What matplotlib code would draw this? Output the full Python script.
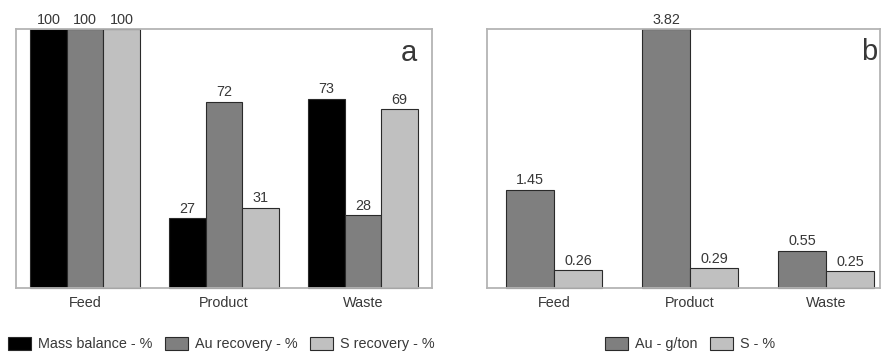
import matplotlib
matplotlib.use("Agg")
import matplotlib.pyplot as plt
import numpy as np

plt.rcParams['font.family'] = ['Liberation Sans', 'DejaVu Sans']

categories = ["Feed", "Product", "Waste"]

# Panel a: mass balance and recoveries (%)
mass_balance = [100, 27, 73]
au_recovery = [100, 72, 28]
s_recovery = [100, 31, 69]

# Panel b: grades
au_grade = [1.45, 3.82, 0.55]
s_grade = [0.26, 0.29, 0.25]

BLACK = "#000000"
GREY = "#7f7f7f"
LIGHT = "#c0c0c0"
EDGE = "#2a2a2a"
FRAME = "#b4b4b4"
TXT = "#383838"
FS = 10.4

W, H = 881, 358
fig = plt.figure(figsize=(W / 100, H / 100), dpi=100)
ax_a = fig.add_axes([16 / W, 70 / H, 416 / W, 259 / H])
ax_b = fig.add_axes([487 / W, 70 / H, 393 / W, 259 / H])


def style(ax):
    for s in ax.spines.values():
        s.set_color(FRAME)
        s.set_linewidth(1.3)
    ax.set_yticks([])
    ax.tick_params(axis='x', length=0, labelsize=FS, labelcolor=TXT, pad=6)


def legend(ax, x_px):
    ax.legend(loc='center left', bbox_to_anchor=(x_px / W, 1 - 344 / H),
              bbox_transform=fig.transFigure, ncol=3, frameon=False,
              fontsize=FS, handlelength=1.6, handleheight=1.05,
              handletextpad=0.45, columnspacing=0.9, labelcolor=TXT,
              borderaxespad=0, borderpad=0)


x = np.arange(len(categories))

# Panel a
w = 0.262
series_a = [(mass_balance, BLACK, "Mass balance - %"),
            (au_recovery, GREY, "Au recovery - %"),
            (s_recovery, LIGHT, "S recovery - %")]
for i, (vals, col, lab) in enumerate(series_a):
    pos = x + (i - 1) * w
    ax_a.bar(pos, vals, width=w, color=col, edgecolor=EDGE, linewidth=0.8,
             label=lab, clip_on=False)
    for p, v in zip(pos, vals):
        ax_a.text(p, v + 2.1, f"{v}", ha='center', va='baseline',
                  fontsize=FS, color=TXT, clip_on=False)
ax_a.set_xlim(-0.496, 2.496)
ax_a.set_ylim(0, 100)
ax_a.set_xticks(x)
ax_a.set_xticklabels(categories)
style(ax_a)
ax_a.text(417 / W, 1 - 61 / H, "a", transform=fig.transFigure, ha='right',
          va='baseline', fontsize=21, color=TXT)
legend(ax_a, 8)

# Panel b
wb = 0.353
series_b = [(au_grade, GREY, "Au - g/ton"),
            (s_grade, LIGHT, "S - %")]
for i, (vals, col, lab) in enumerate(series_b):
    pos = x + (i - 0.5) * wb
    ax_b.bar(pos, vals, width=wb, color=col, edgecolor=EDGE, linewidth=0.8,
             label=lab, clip_on=False)
    for p, v in zip(pos, vals):
        ax_b.text(p, v + 0.08, f"{v:.2f}", ha='center', va='baseline',
                  fontsize=FS, color=TXT, clip_on=False)
ax_b.set_xlim(-0.493, 2.397)
ax_b.set_ylim(0, 3.82)
ax_b.set_xticks(x)
ax_b.set_xticklabels(categories)
style(ax_b)
ax_b.text(877 / W, 1 - 60 / H, "b", transform=fig.transFigure, ha='right',
          va='baseline', fontsize=21, color=TXT)
legend(ax_b, 605)

fig.savefig("out.png", dpi=100)
